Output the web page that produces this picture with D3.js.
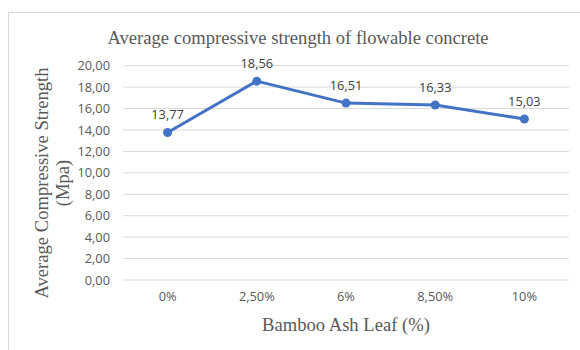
<!DOCTYPE html>
<html>
<head>
<meta charset="utf-8">
<script src="https://cdn.jsdelivr.net/npm/d3@7"></script>
<style>
  html, body { margin: 0; padding: 0; background: #fff; }
  svg { display: block; }
</style>
</head>
<body>
<svg id="chart" width="580" height="350"></svg>
<script>
// Bamboo ash leaf content and measured average compressive strength
const categories = ["0%", "2,50%", "6%", "8,50%", "10%"];
const strength = [13.77, 18.56, 16.51, 16.33, 15.03];
const yTicks = [0, 2, 4, 6, 8, 10, 12, 14, 16, 18, 20];

const svg = d3.select("#chart");
const W = 580, H = 350;
const margin = { left: 123, right: 11, top: 65.7, bottom: 70 };
const fmt = v => d3.format(".2f")(v).replace(".", ",");
const sans = "'Open Sans', 'Noto Sans', sans-serif";
const serif = "'Liberation Serif', 'DejaVu Serif', serif";

// chart area frame
svg.append("rect")
  .attr("x", 8.5).attr("y", 12.5)
  .attr("width", 700).attr("height", 500)
  .attr("fill", "#fff").attr("stroke", "#d9d9d9").attr("stroke-width", 1);

const x = d3.scaleBand().domain(categories).range([margin.left, W - margin.right]);
const y = d3.scaleLinear().domain([0, 20]).range([280, margin.top]);

// horizontal gridlines
svg.append("g")
  .selectAll("line")
  .data(yTicks)
  .join("line")
  .attr("x1", margin.left).attr("x2", W - margin.right)
  .attr("y1", d => y(d)).attr("y2", d => y(d))
  .attr("stroke", "#d9d9d9").attr("stroke-width", 1);

// y axis labels
const yAxis = d3.axisLeft(y).tickValues(yTicks).tickFormat(fmt).tickSize(0).tickPadding(0);
svg.append("g")
  .attr("transform", `translate(110,0)`)
  .call(yAxis)
  .call(g => g.select(".domain").remove())
  .selectAll("text")
  .attr("font-family", sans)
  .attr("font-size", 12.8)
  .attr("fill", "#595959");

// x axis labels
const xAxis = d3.axisBottom(x).tickSize(0).tickPadding(0);
svg.append("g")
  .attr("transform", `translate(0,292)`)
  .call(xAxis)
  .call(g => g.select(".domain").remove())
  .selectAll("text")
  .attr("font-family", sans)
  .attr("font-size", 12.8)
  .attr("fill", "#595959");

const cx = d => x(d) + x.bandwidth() / 2;
const pts = categories.map((c, i) => ({ c, v: strength[i] }));

// series line
svg.append("path")
  .datum(pts)
  .attr("fill", "none")
  .attr("stroke", "#4472C4")
  .attr("stroke-width", 3)
  .attr("stroke-linejoin", "round")
  .attr("d", d3.line().x(d => cx(d.c)).y(d => y(d.v)));

// markers
svg.append("g")
  .selectAll("circle")
  .data(pts)
  .join("circle")
  .attr("cx", d => cx(d.c))
  .attr("cy", d => y(d.v))
  .attr("r", 4.5)
  .attr("fill", "#4472C4");

// data labels
svg.append("g")
  .selectAll("text")
  .data(pts)
  .join("text")
  .attr("x", d => cx(d.c))
  .attr("y", d => y(d.v) - 13)
  .attr("text-anchor", "middle")
  .attr("font-family", sans)
  .attr("font-size", 12.8)
  .attr("fill", "#404040")
  .text(d => fmt(d.v));

// titles
svg.append("text")
  .attr("x", 298).attr("y", 44)
  .attr("text-anchor", "middle")
  .attr("font-family", serif).attr("font-size", 18.6)
  .attr("fill", "#595959")
  .text("Average compressive strength of flowable concrete");

svg.append("text")
  .attr("x", 346).attr("y", 331)
  .attr("text-anchor", "middle")
  .attr("font-family", serif).attr("font-size", 18.6)
  .attr("fill", "#595959")
  .text("Bamboo Ash Leaf (%)");

const yt = svg.append("text")
  .attr("transform", "translate(48,183) rotate(-90)")
  .attr("text-anchor", "middle")
  .attr("font-family", serif).attr("font-size", 18.6)
  .attr("fill", "#595959");
yt.append("tspan").attr("x", 0).attr("dy", 0).text("Average Compressive Strength");
yt.append("tspan").attr("x", 0).attr("dy", 21).text("(Mpa)");
</script>
</body>
</html>
